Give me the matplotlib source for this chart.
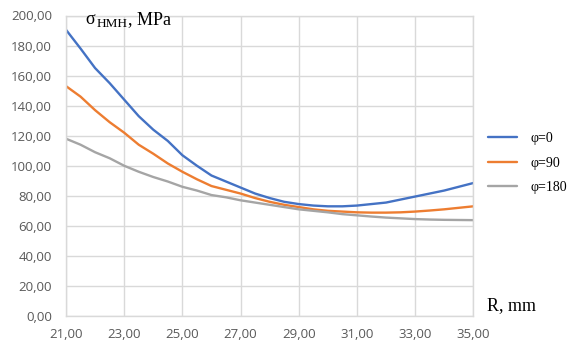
import matplotlib
matplotlib.use("Agg")
import matplotlib.pyplot as plt
import numpy as np

# Radius, mm
radius = [21.0, 21.5, 22.0, 22.5, 23.0, 23.5, 24.0, 24.5, 25.0, 25.5, 26.0, 26.5,
          27.0, 27.5, 28.0, 28.5, 29.0, 29.5, 30.0, 30.5, 31.0, 31.5, 32.0, 32.5,
          33.0, 33.5, 34.0, 34.5, 35.0]

# Stress, MPa, for each angle
sigma_phi0 = [190.5, 178.0, 165.0, 155.0, 144.0, 133.0, 124.0, 116.5, 107.0, 100.0,
              93.5, 89.5, 85.5, 81.5, 78.5, 76.0, 74.5, 73.5, 73.0, 73.0,
              73.5, 74.5, 75.5, 77.5, 79.5, 81.5, 83.5, 86.0, 88.5]
sigma_phi90 = [153.0, 146.0, 137.0, 129.0, 122.0, 114.0, 108.0, 101.5, 96.0, 91.0,
               86.5, 84.0, 81.5, 78.5, 76.0, 74.0, 72.5, 71.0, 70.0, 69.5,
               69.0, 68.8, 68.8, 69.0, 69.5, 70.2, 71.0, 72.0, 73.0]
sigma_phi180 = [118.0, 114.0, 109.0, 105.0, 100.0, 96.0, 92.5, 89.5, 86.0, 83.5,
                80.5, 79.0, 77.0, 75.5, 74.0, 72.5, 71.0, 70.0, 69.0, 67.8,
                67.0, 66.2, 65.5, 65.0, 64.5, 64.2, 64.0, 63.9, 63.8]

series_labels = ["φ=0", "φ=90", "φ=180"]
series_colors = ["#4472C4", "#ED7D31", "#A5A5A5"]

x_ticks = [21, 23, 25, 27, 29, 31, 33, 35]
y_ticks = [0, 20, 40, 60, 80, 100, 120, 140, 160, 180, 200]


def comma_fmt(v):
    return f"{v:.2f}".replace(".", ",")


W, H = 571, 349
fig = plt.figure(figsize=(W / 100, H / 100), dpi=100)
ax = fig.add_axes([66 / W, 1 - 316 / H, (473.3 - 66) / W, (316 - 15.5) / H])

for ys, lab, col in zip([sigma_phi0, sigma_phi90, sigma_phi180], series_labels, series_colors):
    ax.plot(radius, ys, color=col, lw=1.7, label=lab, solid_capstyle="round")

ax.set_xlim(21, 35)
ax.set_ylim(0, 200)
ax.set_xticks(x_ticks)
ax.set_yticks(y_ticks)
ax.set_xticklabels([comma_fmt(v) for v in x_ticks])
ax.set_yticklabels([comma_fmt(v) for v in y_ticks])

grid_col = "#D9D9D9"
ax.grid(True, color=grid_col, lw=1.0)
ax.set_axisbelow(True)
for s in ax.spines.values():
    s.set_color(grid_col)
    s.set_linewidth(1.0)
ax.tick_params(length=0, labelsize=9.5, labelcolor="#595959")
ax.tick_params(axis="y", pad=10)
ax.tick_params(axis="x", pad=9)
for t in ax.get_xticklabels() + ax.get_yticklabels():
    t.set_fontfamily("Open Sans")

serif = "Liberation Serif"
# axis title with Cyrillic subscript
fig.text(85 / W, 1 - 20 / H, "σ", family=serif, fontsize=13, va="center", ha="left")
fig.text(97 / W, 1 - 24 / H, "НМН", family=serif, fontsize=9.5, va="center", ha="left")
fig.text(128 / W, 1 - 20 / H, ", MPa", family=serif, fontsize=13, va="center", ha="left")
fig.text(487 / W, 1 - 306 / H, "R, mm", family=serif, fontsize=13, va="center", ha="left")

leg = ax.legend(loc="center left", bbox_to_anchor=(488 / W, 1 - 163 / H),
                bbox_transform=fig.transFigure, frameon=False,
                prop={"family": serif, "size": 10}, handlelength=2.1,
                handletextpad=0.95, labelspacing=0.85, borderpad=0, borderaxespad=0)

fig.savefig("out.png", dpi=100)
